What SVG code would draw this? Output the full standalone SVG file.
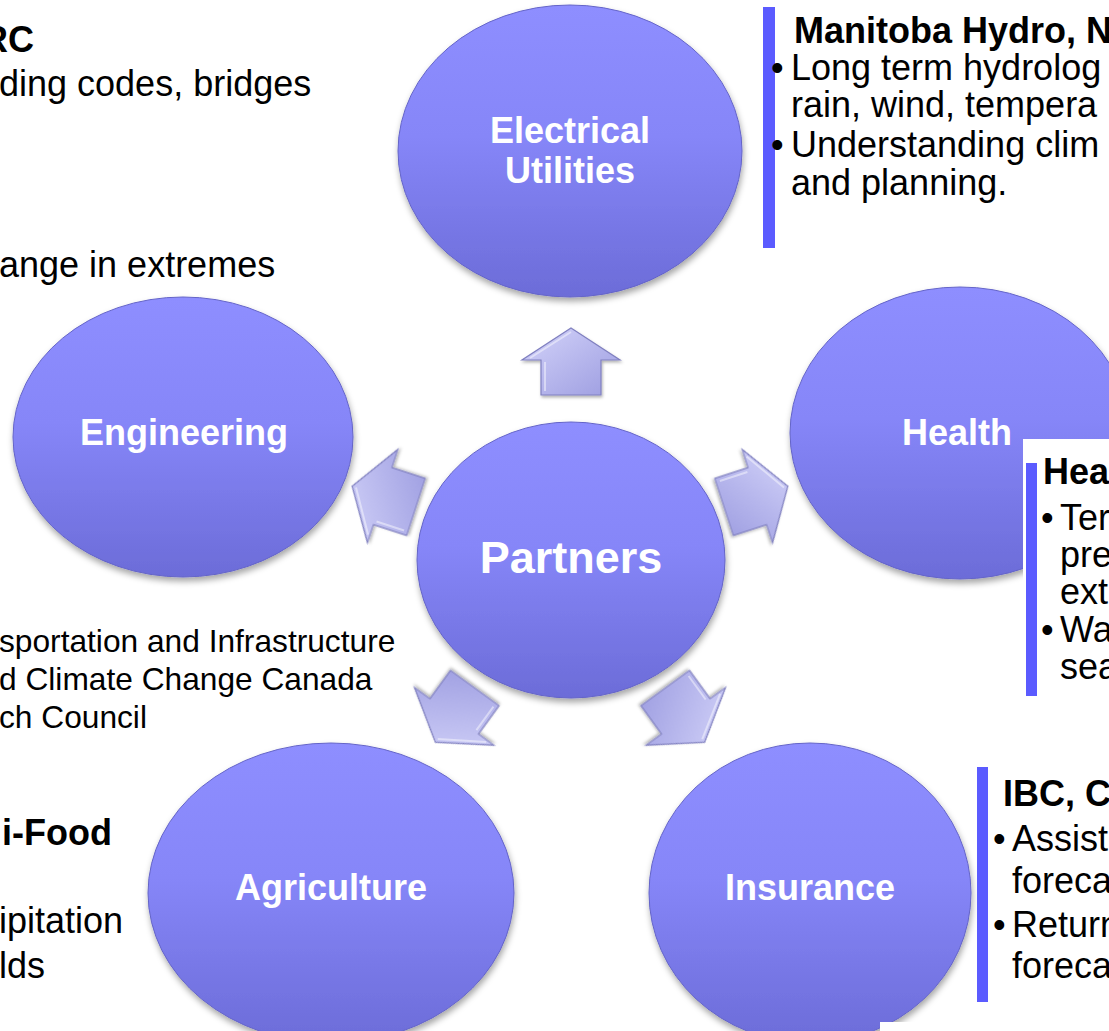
<svg xmlns="http://www.w3.org/2000/svg" width="1109" height="1031" viewBox="0 0 1109 1031">
<defs>
<style>
.t{font-family:"Liberation Sans",Arial,sans-serif;font-size:36px;fill:#000}
.hb{font-family:"Liberation Sans",Arial,sans-serif;font-size:36px;font-weight:bold;fill:#000}
.s{font-family:"Liberation Sans",Arial,sans-serif;font-size:31.7px;fill:#000}
.lbl{font-family:"Liberation Sans",Arial,sans-serif;font-size:36px;font-weight:bold;fill:#fff;text-anchor:middle}
.node ellipse{fill:url(#cg);stroke:#6464c8;stroke-width:1;filter:url(#sh)}
.bar{fill:#5b5bff}
.arrow{fill:url(#ag);stroke:#8080c0;stroke-width:1.2;filter:url(#sh2)}
.bev{fill:none;stroke:#ffffff;stroke-opacity:0.45;stroke-width:2}
</style>
<linearGradient id="cg" x1="0" y1="0" x2="0" y2="1">
<stop offset="0" stop-color="#8e8eff"/>
<stop offset="0.45" stop-color="#8686f8"/>
<stop offset="1" stop-color="#6c6cd8"/>
</linearGradient>
<linearGradient id="ag" x1="0" y1="0" x2="1" y2="1">
<stop offset="0" stop-color="#d4d4fa"/>
<stop offset="1" stop-color="#9c9ce0"/>
</linearGradient>
<filter id="sh" x="-10%" y="-10%" width="120%" height="125%">
<feDropShadow dx="1" dy="4" stdDeviation="3" flood-color="#000" flood-opacity="0.35"/>
</filter>
<filter id="sh2" x="-20%" y="-20%" width="140%" height="140%">
<feDropShadow dx="1" dy="2" stdDeviation="1.5" flood-color="#000" flood-opacity="0.3"/>
</filter>
<path id="arr" d="M0,-34 L49,-2 L30,-2 L30,33 L-30,33 L-30,-2 L-49,-2 Z"/>
<path id="arrb" d="M-41,-4 L0,-30 M-26,0 L-26,29"/>
</defs>
<rect width="1109" height="1031" fill="#fff"/>

<g id="connectors">
<g transform="translate(571 362)"><use href="#arr" class="arrow"/><use href="#arrb" class="bev"/></g>
<g transform="rotate(72 570 557) translate(570 362)"><use href="#arr" class="arrow"/><use href="#arrb" class="bev"/></g>
<g transform="rotate(144 570 557) translate(570 362)"><use href="#arr" class="arrow"/><use href="#arrb" class="bev"/></g>
<g transform="rotate(-144 570 557) translate(570 362)"><use href="#arr" class="arrow"/><use href="#arrb" class="bev"/></g>
<g transform="rotate(-72 570 557) translate(570 362)"><use href="#arr" class="arrow"/><use href="#arrb" class="bev"/></g>
</g>

<g id="node-electrical" class="node">
<ellipse cx="570" cy="151" rx="172" ry="146"/>
<text class="lbl" x="570" y="143">Electrical</text>
<text class="lbl" x="570" y="183">Utilities</text>
</g>
<g id="node-engineering" class="node">
<ellipse cx="183" cy="437" rx="170" ry="140"/>
<text class="lbl" x="184" y="445">Engineering</text>
</g>
<g id="node-health" class="node">
<ellipse cx="960" cy="433" rx="170" ry="146"/>
<text class="lbl" x="957" y="445">Health</text>
</g>
<g id="node-partners" class="node">
<ellipse cx="571" cy="560" rx="154" ry="138"/>
<text class="lbl" x="571" y="573" style="font-size:45px">Partners</text>
</g>
<g id="node-agriculture" class="node">
<ellipse cx="331" cy="893" rx="183" ry="150"/>
<text class="lbl" x="331" y="900">Agriculture</text>
</g>
<g id="node-insurance" class="node">
<ellipse cx="810" cy="893" rx="161" ry="150"/>
<text class="lbl" x="810" y="900">Insurance</text>
</g>

<g id="text-nrc">
<text class="hb" x="-18" y="52">RC</text>
<text class="t" x="-1" y="96">ding codes, bridges</text>
<text class="t" x="-1" y="277">ange in extremes</text>
</g>

<g id="text-manitoba">
<rect class="bar" x="763" y="7" width="12" height="241"/>
<text class="hb" x="794" y="43">Manitoba Hydro, N</text>
<text class="t" x="771" y="80">•</text>
<text class="t" x="791" y="80">Long term hydrolog</text>
<text class="t" x="791" y="117">rain, wind, tempera</text>
<text class="t" x="771" y="157">•</text>
<text class="t" x="791" y="157">Understanding clim</text>
<text class="t" x="791" y="195">and planning.</text>
</g>

<g id="text-health">
<rect x="1023" y="439" width="86" height="266" fill="#fff"/>
<rect class="bar" x="1026" y="463" width="11" height="233"/>
<text class="hb" x="1043" y="484">Hea</text>
<text class="t" x="1041" y="530">•</text>
<text class="t" x="1060" y="530">Ter</text>
<text class="t" x="1060" y="567">pre</text>
<text class="t" x="1060" y="604">ext</text>
<text class="t" x="1041" y="642">•</text>
<text class="t" x="1060" y="642">Wa</text>
<text class="t" x="1060" y="679">sea</text>
</g>

<g id="text-other">
<text class="s" x="-1" y="652">sportation and Infrastructure</text>
<text class="s" x="-1" y="690">d Climate Change Canada</text>
<text class="s" x="-1" y="728">ch Council</text>
</g>

<g id="text-agri">
<text class="hb" x="2" y="845">i-Food</text>
<text class="t" x="-1" y="933">ipitation</text>
<text class="t" x="-1" y="978">lds</text>
</g>

<g id="text-ibc">
<rect x="880" y="1022" width="229" height="9" fill="#fff"/>
<rect class="bar" x="977" y="767" width="11" height="235"/>
<text class="hb" x="1003" y="806">IBC, C</text>
<text class="t" x="993" y="851">•</text>
<text class="t" x="1012" y="851">Assist</text>
<text class="t" x="1012" y="893">foreca</text>
<text class="t" x="993" y="937">•</text>
<text class="t" x="1012" y="937">Return</text>
<text class="t" x="1012" y="978">foreca</text>
</g>
</svg>
